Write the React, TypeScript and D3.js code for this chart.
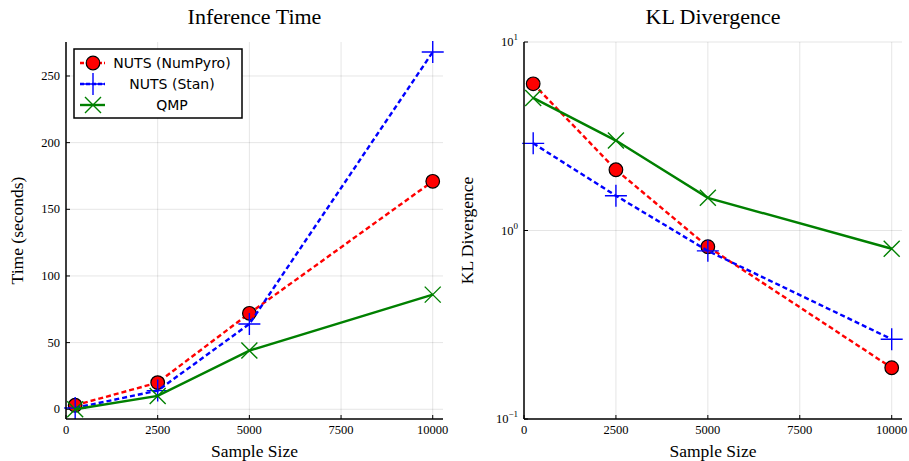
import React from "react";
import * as d3 from "d3";

const sampleSizes = [250, 2500, 5000, 10000];
const seriesNames = ["NUTS (NumPyro)", "NUTS (Stan)", "QMP"];

const timeNumPyro = [3, 20, 72, 171];
const timeStan = [1, 14, 64, 268];
const timeQMP = [0, 10, 44, 86];

const klNumPyro = [6.0, 2.1, 0.82, 0.187];
const klStan = [2.9, 1.53, 0.78, 0.265];
const klQMP = [5.05, 3.0, 1.49, 0.8];

const xTicks = [0, 2500, 5000, 7500, 10000];
const timeTicks = [0, 50, 100, 150, 200, 250];
const klTicks = [0.1, 1, 10];

const colors = ["#ff0000", "#0000ff", "#008000"];
const dashes = ["5,3", "5,3", null];
const serif = "'Liberation Serif', 'DejaVu Serif', serif";
const sans = "'DejaVu Sans', sans-serif";

function Marker({ kind, x, y }) {
  if (kind === 0)
    return <circle cx={x} cy={y} r={6.8} fill="#ff0000" stroke="#000" strokeWidth={1.2} />;
  if (kind === 1)
    return (
      <path d={`M${x - 11},${y}H${x + 11}M${x},${y - 11}V${y + 11}`} stroke="#0000ff" strokeWidth={1.4} fill="none" />
    );
  const s = 8;
  return (
    <path d={`M${x - s},${y - s}L${x + s},${y + s}M${x - s},${y + s}L${x + s},${y - s}`} stroke="#008000" strokeWidth={1.4} fill="none" />
  );
}

function Panel({ left, right, top, bottom, title, ylabel, ylabelX, yScale, yTicks, yFmt, series, legend }) {
  const x = d3.scaleLinear().domain([0, 10280]).range([left, right]);
  const y = yScale;
  const line = d3.line().x((d, i) => x(sampleSizes[i])).y((d) => y(d));
  const cx = (left + right) / 2;
  return (
    <g>
      {/* grid */}
      {xTicks.map((t) => (
        <line key={"gx" + t} x1={x(t)} x2={x(t)} y1={top} y2={bottom} stroke="#000" strokeOpacity={0.1} />
      ))}
      {yTicks.map((t) => (
        <line key={"gy" + t} x1={left} x2={right} y1={y(t)} y2={y(t)} stroke="#000" strokeOpacity={0.1} />
      ))}
      {/* series */}
      {series.map((vals, k) => (
        <g key={k}>
          <path d={line(vals)} fill="none" stroke={colors[k]} strokeWidth={2.4} strokeDasharray={dashes[k] || undefined} />
          {vals.map((v, i) => (
            <Marker key={i} kind={k} x={x(sampleSizes[i])} y={y(v)} />
          ))}
        </g>
      ))}
      {/* axes */}
      <line x1={left} x2={right} y1={bottom} y2={bottom} stroke="#000" strokeWidth={1.5} />
      <line x1={left} x2={left} y1={top} y2={bottom} stroke="#000" strokeWidth={1.5} />
      {xTicks.map((t) => (
        <g key={"tx" + t}>
          <line x1={x(t)} x2={x(t)} y1={bottom} y2={bottom - 4} stroke="#000" strokeWidth={1} />
          <text x={x(t)} y={bottom + 15} textAnchor="middle" fontFamily={serif} fontSize={12.5}>
            {t}
          </text>
        </g>
      ))}
      {yTicks.map((t) => (
        <g key={"ty" + t}>
          <line x1={left} x2={left + 4} y1={y(t)} y2={y(t)} stroke="#000" strokeWidth={1} />
          {yFmt(t, left - 6, y(t) + 4)}
        </g>
      ))}
      <text x={cx} y={24} textAnchor="middle" fontFamily={serif} fontSize={22}>
        {title}
      </text>
      <text x={cx} y={457} textAnchor="middle" fontFamily={serif} fontSize={17.5}>
        Sample Size
      </text>
      <text transform={`translate(${ylabelX},${(top + bottom) / 2}) rotate(-90)`} textAnchor="middle" fontFamily={serif} fontSize={17.5}>
        {ylabel}
      </text>
      {legend && (
        <g>
          <rect x={74} y={49} width={168} height={69} fill="#fff" stroke="#000" strokeWidth={1.5} />
          {seriesNames.map((n, k) => {
            const ly = 63 + k * 21;
            return (
              <g key={n}>
                <line x1={80} x2={105} y1={ly} y2={ly} stroke={colors[k]} strokeWidth={2.4} strokeDasharray={dashes[k] ? "4,2" : undefined} />
                <Marker kind={k} x={93} y={ly} />
                <text x={172} y={ly + 5} textAnchor="middle" fontFamily={sans} fontSize={14}>
                  {n}
                </text>
              </g>
            );
          })}
        </g>
      )}
    </g>
  );
}

export default function App() {
  const yTime = d3.scaleLinear().domain([-7.3, 275.5]).range([419, 42]);
  const yKL = d3.scaleLog().domain([0.1, 10]).range([419, 42]);
  const fmtLin = (t, px, py) => (
    <text x={px} y={py} textAnchor="end" fontFamily={serif} fontSize={12.5}>
      {t}
    </text>
  );
  const fmtLog = (t, px, py) => (
    <text x={px} y={py} textAnchor="end" fontFamily={serif} fontSize={12.5}>
      10
      <tspan dy={-6} fontSize={9}>
        {Math.round(Math.log10(t)) < 0 ? "\u22121" : Math.round(Math.log10(t))}
      </tspan>
    </text>
  );
  return (
    <svg width={909} height={461} style={{ position: "absolute", left: 0, top: 0, background: "#fff" }}>
      <rect width={909} height={461} fill="#fff" />
      <Panel
        left={66}
        right={443}
        top={42}
        bottom={419}
        title="Inference Time"
        ylabel="Time (seconds)"
        ylabelX={23}
        yScale={yTime}
        yTicks={timeTicks}
        yFmt={fmtLin}
        series={[timeNumPyro, timeStan, timeQMP]}
        legend
      />
      <Panel
        left={524}
        right={902}
        top={42}
        bottom={419}
        title="KL Divergence"
        ylabel="KL Divergence"
        ylabelX={473}
        yScale={yKL}
        yTicks={klTicks}
        yFmt={fmtLog}
        series={[klNumPyro, klStan, klQMP]}
        legend={false}
      />
    </svg>
  );
}
